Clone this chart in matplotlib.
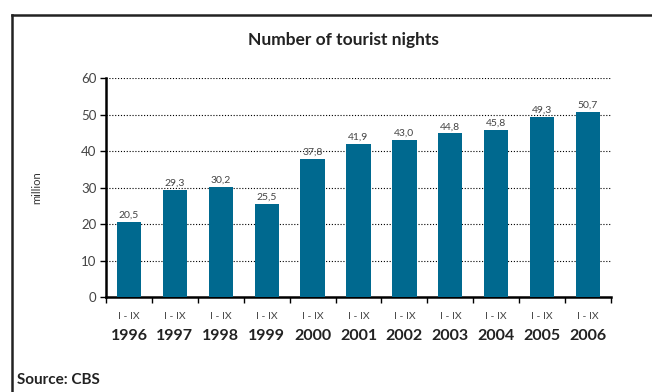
import matplotlib
matplotlib.use("Agg")
import matplotlib.pyplot as plt
from matplotlib.lines import Line2D
import matplotlib.transforms as mtransforms

years = ["1996", "1997", "1998", "1999", "2000", "2001", "2002", "2003", "2004", "2005", "2006"]
period = "I - IX"
nights = [20.5, 29.3, 30.2, 25.5, 37.8, 41.9, 43.0, 44.8, 45.8, 49.3, 50.7]

plt.rcParams['font.family'] = ['Lato', 'DejaVu Sans']

fig = plt.figure(figsize=(6.52, 3.92), dpi=100)
ax = fig.add_axes([0.1626, 0.2423, 0.7745, 0.5587])

x = range(len(years))
ax.bar(x, nights, width=0.53, color="#00698f", zorder=3)
for i, v in enumerate(nights):
    ax.text(i, v + 0.6, f"{v:.1f}".replace(".", ","), ha="center", va="bottom",
            fontsize=7.5, color="#444444")

ax.set_xlim(-0.5, len(years) - 0.5)
ax.set_ylim(0, 60)
ax.set_yticks(range(0, 61, 10))
ax.tick_params(axis="y", labelsize=9.5, labelcolor="#444444", color="black",
               length=4, width=1, pad=3)
for y in range(10, 61, 10):
    ax.axhline(y, color="black", lw=0.8, ls=(0, (1, 1.6)), zorder=1)

# tick marks between categories, labels drawn separately
ax.set_xticks([i - 0.5 for i in range(len(years) + 1)])
ax.set_xticklabels([])
ax.tick_params(axis="x", length=4, width=1, color="black")

trans = mtransforms.blended_transform_factory(ax.transData, ax.transAxes)
for i, yr in enumerate(years):
    ax.text(i, -0.09, period, transform=trans, ha="center", va="center",
            fontsize=7.5, color="#444444")
    ax.text(i, -0.178, yr, transform=trans, ha="center", va="center",
            fontsize=11.5, fontweight="bold", color="#222222")

for s in ["top", "right"]:
    ax.spines[s].set_visible(False)
ax.spines["left"].set_linewidth(1.8)
ax.spines["bottom"].set_linewidth(1.8)

ax.set_ylabel("million", fontsize=8, color="#333333", labelpad=28)

fig.text(0.526, 0.898, "Number of tourist nights", ha="center", va="center",
         fontsize=12.5, fontweight="bold", color="#222222")
fig.text(0.026, 0.03, "Source: CBS", ha="left", va="center",
         fontsize=11, fontweight="bold", color="#222222")

# outer frame
fig.add_artist(Line2D([0.0184, 0.0184], [0.0, 0.962], transform=fig.transFigure,
                      color="#222222", lw=1.8))
fig.add_artist(Line2D([0.0184, 1.0], [0.962, 0.962], transform=fig.transFigure,
                      color="#222222", lw=1.8))

fig.savefig("out.png", dpi=100)
